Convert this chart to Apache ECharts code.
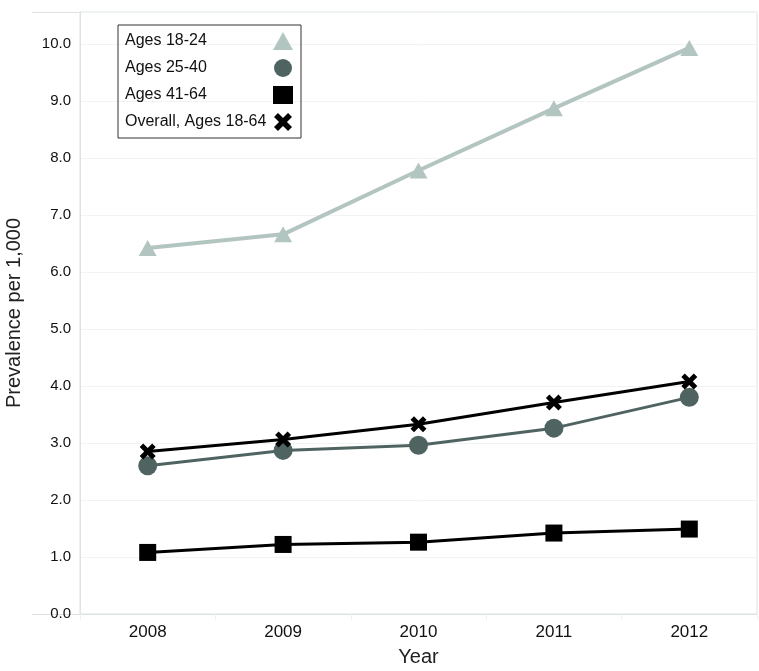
<!DOCTYPE html>
<html>
<head>
<meta charset="utf-8">
<script src="https://cdn.jsdelivr.net/npm/echarts@6/dist/echarts.min.js"></script>
<style>html,body{margin:0;padding:0;background:#fff}#c{width:759px;height:671px}</style>
</head>
<body>
<div id="c"></div>
<script>
const years = ['2008', '2009', '2010', '2011', '2012'];
const ages18to24 = [6.42, 6.66, 7.78, 8.87, 9.93];
const ages25to40 = [2.60, 2.87, 2.96, 3.26, 3.80];
const ages41to64 = [1.08, 1.22, 1.26, 1.42, 1.49];
const overall = [2.85, 3.06, 3.33, 3.71, 4.08];
const seriesNames = ['Ages 18-24', 'Ages 25-40', 'Ages 41-64', 'Overall, Ages 18-64'];

const xPath = 'path://M0,2.2 L2.2,0 L5,2.8 L7.8,0 L10,2.2 L7.2,5 L10,7.8 L7.8,10 L5,7.2 L2.2,10 L0,7.8 L2.8,5 Z';
const font = 'Liberation Sans, Arial, sans-serif';
const borderCol = '#dde3e3';

const chart = echarts.init(document.getElementById('c'));
chart.setOption({
  animation: false,
  backgroundColor: '#fff',
  grid: { left: 80, right: 2, top: 12, bottom: 57, show: true, borderColor: borderCol, borderWidth: 1,
    containLabel: false, outerBoundsMode: 'none' },
  legend: {
    orient: 'vertical', left: 118, top: 25, align: 'right',
    borderColor: '#333', borderWidth: 1, padding: [7, 8, 7, 7],
    itemGap: 9, itemWidth: 20, itemHeight: 18,
    data: [
      { name: seriesNames[0], icon: 'triangle', itemStyle: { color: '#b3c5c1' } },
      { name: seriesNames[1], icon: 'circle', itemStyle: { color: '#4f6461' } },
      { name: seriesNames[2], icon: 'rect', itemStyle: { color: '#000' } },
      { name: seriesNames[3], icon: xPath, itemStyle: { color: '#000' } }
    ],
    formatter: n => '{t|' + n + '}',
    textStyle: { fontFamily: font, fontSize: 16, color: '#111',
      rich: { t: { width: 143, align: 'left', fontFamily: font, fontSize: 16, color: '#111' } } }
  },
  xAxis: {
    type: 'category', data: years, boundaryGap: true,
    name: 'Year', nameLocation: 'middle', nameGap: 33,
    nameTextStyle: { fontFamily: font, fontSize: 20, color: '#222' },
    axisLine: { lineStyle: { color: borderCol, width: 1 } },
    axisTick: { show: true, length: 6, lineStyle: { color: '#eef1f1' } },
    axisLabel: { fontFamily: font, fontSize: 17, color: '#111', margin: 10 },
    splitLine: { show: false }
  },
  yAxis: {
    type: 'value', min: 0, max: 10.56, interval: 1,
    name: 'Prevalence per 1,000', nameLocation: 'middle', nameGap: 56,
    nameTextStyle: { fontFamily: font, fontSize: 20, color: '#222' },
    axisLine: { show: true, lineStyle: { color: borderCol, width: 1 } },
    axisTick: { show: false },
    axisLabel: { fontFamily: font, fontSize: 15, color: '#111', margin: 9,
      formatter: v => (Math.abs(v - Math.round(v)) < 1e-6 ? v.toFixed(1) : '') },
    splitLine: { lineStyle: { color: '#f1f4f4', width: 1 } }
  },
  graphic: [
    { type: 'line', shape: { x1: 32, y1: 12.5, x2: 80, y2: 12.5 }, style: { stroke: borderCol, lineWidth: 1 } },
    { type: 'line', shape: { x1: 32, y1: 614.5, x2: 80, y2: 614.5 }, style: { stroke: borderCol, lineWidth: 1 } }
  ],
  series: [
    { name: seriesNames[0], type: 'line', data: ages18to24, symbol: 'triangle', symbolSize: [18, 16],
      itemStyle: { color: '#b3c5c1' }, lineStyle: { color: '#b3c5c1', width: 4 }, z: 2 },
    { name: seriesNames[1], type: 'line', data: ages25to40, symbol: 'circle', symbolSize: 19,
      itemStyle: { color: '#4f6461' }, lineStyle: { color: '#4f6461', width: 3 }, z: 3 },
    { name: seriesNames[2], type: 'line', data: ages41to64, symbol: 'rect', symbolSize: 17,
      itemStyle: { color: '#000' }, lineStyle: { color: '#000', width: 3 }, z: 4 },
    { name: seriesNames[3], type: 'line', data: overall, symbol: xPath, symbolSize: 16,
      itemStyle: { color: '#000' }, lineStyle: { color: '#000', width: 3 }, z: 5 }
  ]
});
</script>
</body>
</html>
